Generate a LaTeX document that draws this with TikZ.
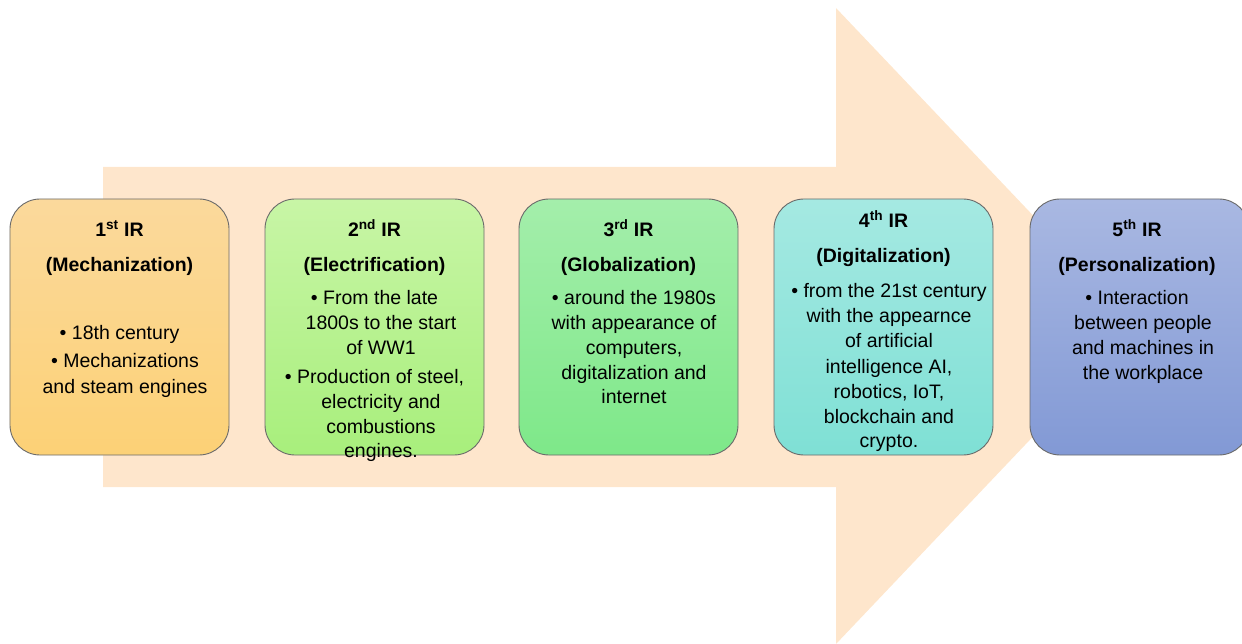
\documentclass[tikz,border=0pt]{standalone}
\usepackage{fontspec}
\setmainfont{Liberation Sans}
\usetikzlibrary{shadings}

\definecolor{arrowfill}{HTML}{FEE6CC}
\definecolor{edgegray}{HTML}{6A6A6A}
\definecolor{oneT}{HTML}{FBD99C}\definecolor{oneB}{HTML}{FCD176}
\definecolor{twoT}{HTML}{C8F5A6}\definecolor{twoB}{HTML}{A8EF7C}
\definecolor{thrT}{HTML}{A4EEAB}\definecolor{thrB}{HTML}{7EE889}
\definecolor{fouT}{HTML}{A5E9E2}\definecolor{fouB}{HTML}{7FE0D5}
\definecolor{fivT}{HTML}{A9B8E2}\definecolor{fivB}{HTML}{8299D5}

\tikzset{
  erabox/.style 2 args={draw=edgegray, line width=0.9bp, rounded corners=30bp,
    minimum width=219bp, minimum height=256bp, inner sep=0pt,
    top color=#1, bottom color=#2},
  ln/.style={anchor=base, inner sep=0pt, font=\fontsize{19.5bp}{25bp}\selectfont},
  hd/.style={ln, font=\fontsize{19.5bp}{25bp}\selectfont\bfseries},
}
\newcommand\sps[1]{\textsuperscript{#1}}

\begin{document}
\begin{tikzpicture}[x=1bp, y=-1bp]
\useasboundingbox (0,0) rectangle (1242,644);

% large background arrow
\fill[arrowfill] (103,167) -- (836,167) -- (836,8) -- (1138,326)
  -- (836,644) -- (836,487) -- (103,487) -- cycle;

% era boxes
\node[erabox={oneT}{oneB}] (b1) at (119.5,327) {};
\node[erabox={twoT}{twoB}] (b2) at (374.5,327) {};
\node[erabox={thrT}{thrB}] (b3) at (628.5,327) {};
\node[erabox={fouT}{fouB}] (b4) at (883.5,327) {};
\node[erabox={fivT}{fivB}] (b5) at (1139.5,327) {};

% 1st IR
\node[hd] (t1a) at (119.5,237) {1\sps{st} IR};
\node[hd] (t1b) at (119.5,272) {(Mechanization)};
\node[ln] (t1c) at (119.5,340) {• 18th century};
\node[ln] (t1d) at (125,368) {• Mechanizations};
\node[ln] (t1e) at (125,393) {and steam engines};

% 2nd IR
\node[hd] (t2a) at (374.5,237) {2\sps{nd} IR};
\node[hd] (t2b) at (374.5,272) {(Electrification)};
\node[ln] (t2c) at (374.5,305) {• From the late};
\node[ln] (t2d) at (381,330) {1800s to the start};
\node[ln] (t2e) at (381,355) {of WW1};
\node[ln] (t2f) at (374.5,383) {• Production of steel,};
\node[ln] (t2g) at (381,408) {electricity and};
\node[ln] (t2h) at (381,433) {combustions};
\node[ln] (t2i) at (381,457) {engines.};

% 3rd IR
\node[hd] (t3a) at (628.5,237) {3\sps{rd} IR};
\node[hd] (t3b) at (628.5,272) {(Globalization)};
\node[ln] (t3c) at (634,305) {• around the 1980s};
\node[ln] (t3d) at (634,330) {with appearance of};
\node[ln] (t3e) at (634,355) {computers,};
\node[ln] (t3f) at (634,379) {digitalization and};
\node[ln] (t3g) at (634,403) {internet};

% 4th IR
\node[hd] (t4a) at (883.5,228) {4\sps{th} IR};
\node[hd] (t4b) at (883.5,263) {(Digitalization)};
\node[ln] (t4c) at (889,298) {• from the 21st century};
\node[ln] (t4d) at (889,323) {with the appearnce};
\node[ln] (t4e) at (889,348) {of artificial};
\node[ln] (t4f) at (889,373) {intelligence AI,};
\node[ln] (t4g) at (889,398) {robotics, IoT,};
\node[ln] (t4h) at (889,423) {blockchain and};
\node[ln] (t4i) at (889,447) {crypto.};

% 5th IR
\node[hd] (t5a) at (1137,237) {5\sps{th} IR};
\node[hd] (t5b) at (1137,272) {(Personalization)};
\node[ln] (t5c) at (1137,305) {• Interaction};
\node[ln] (t5d) at (1143,330) {between people};
\node[ln] (t5e) at (1143,355) {and machines in};
\node[ln] (t5f) at (1143,379) {the workplace};
\end{tikzpicture}
\end{document}
